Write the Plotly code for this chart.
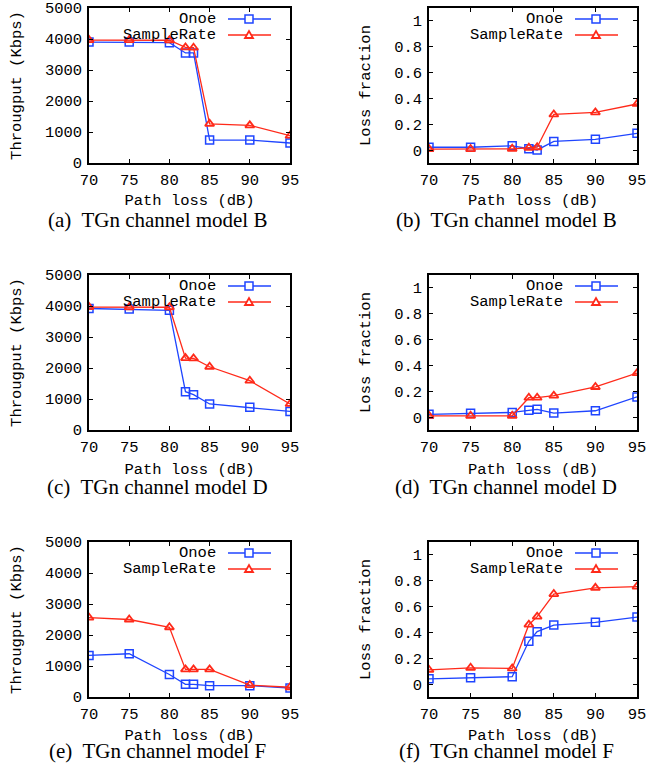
import plotly.graph_objects as go

# Path loss (dB) values shared by all panels
path_loss = [70, 75, 80, 82, 83, 85, 90, 95]

# (a) throughput, model B
thr_b_onoe = [3900, 3900, 3880, 3550, 3550, 740, 740, 645]
thr_b_sample = [3965, 3965, 3960, 3730, 3720, 1265, 1215, 880]
# (b) loss fraction, model B
loss_b_onoe = [0.022, 0.022, 0.033, 0.010, 0.001, 0.067, 0.083, 0.130]
loss_b_sample = [0.008, 0.008, 0.010, 0.018, 0.022, 0.276, 0.292, 0.357]
# (c) throughput, model D
thr_d_onoe = [3920, 3900, 3860, 1235, 1140, 840, 730, 600]
thr_d_sample = [3965, 3960, 3960, 2320, 2310, 2040, 1590, 840]
# (d) loss fraction, model D
loss_d_onoe = [0.021, 0.029, 0.036, 0.052, 0.060, 0.031, 0.049, 0.156]
loss_d_sample = [0.010, 0.010, 0.010, 0.150, 0.150, 0.166, 0.233, 0.340]
# (e) throughput, model F
thr_f_onoe = [1340, 1395, 725, 410, 410, 365, 365, 290]
thr_f_sample = [2560, 2500, 2250, 890, 890, 890, 385, 315]
# (f) loss fraction, model F
loss_f_onoe = [0.041, 0.049, 0.057, 0.331, 0.406, 0.457, 0.478, 0.519]
loss_f_sample = [0.110, 0.126, 0.121, 0.460, 0.522, 0.697, 0.745, 0.755]

captions = [
    "(a)  TGn channel model B", "(b)  TGn channel model B",
    "(c)  TGn channel model D", "(d)  TGn channel model D",
    "(e)  TGn channel model F", "(f)  TGn channel model F",
]

BLUE = "#1f45ff"
RED = "#ff2a1a"
MONO = "Liberation Mono, DejaVu Sans Mono, monospace"
SERIF = "Liberation Serif, Times New Roman, serif"

W, H = 668, 764
# plot boxes in pixels: (left, right, top, bottom)
col_px = [(89, 290), (429, 637)]
row_px = [(8, 163), (275, 430), (542, 697)]
xtitle_y = [201, 470, 736]
caption_y = [220, 487, 751]
caption_x = [157, 506]

panels = [
    (thr_b_onoe, thr_b_sample, "thr"), (loss_b_onoe, loss_b_sample, "loss"),
    (thr_d_onoe, thr_d_sample, "thr"), (loss_d_onoe, loss_d_sample, "loss"),
    (thr_f_onoe, thr_f_sample, "thr"), (loss_f_onoe, loss_f_sample, "loss"),
]

fig = go.Figure()
layout = {}
annotations = []
shapes = []

for i, (onoe, sample, kind) in enumerate(panels):
    r, c = divmod(i, 2)
    n = "" if i == 0 else str(i + 1)
    xa, ya = "x" + n, "y" + n
    left, right = col_px[c]
    top, bottom = row_px[r]

    fig.add_trace(go.Scatter(
        x=path_loss, y=onoe, xaxis=xa, yaxis=ya, mode="lines+markers",
        line=dict(color=BLUE, width=1.3),
        marker=dict(symbol="square-open", size=8, color=BLUE, line=dict(width=1.5)),
        showlegend=False,
    ))
    fig.add_trace(go.Scatter(
        x=path_loss, y=sample, xaxis=xa, yaxis=ya, mode="lines+markers",
        line=dict(color=RED, width=1.3),
        marker=dict(symbol="triangle-up-open", size=8, color=RED, line=dict(width=1.8)),
        showlegend=False,
    ))

    axis_common = dict(
        showline=True, linecolor="black", linewidth=1.5, mirror="ticks",
        ticks="inside", ticklen=4, tickcolor="black", tickwidth=1,
        showgrid=False, zeroline=False, automargin=False,
        tickfont=dict(family=MONO, size=15.5, color="black"),
    )
    layout["xaxis" + n] = dict(
        axis_common, domain=[left / W, right / W], anchor=ya,
        range=[70, 95], tickvals=[70, 75, 80, 85, 90, 95], ticklabelstandoff=2,
        title=dict(text="Path loss (dB)", font=dict(family=MONO, size=15.5, color="black"),
                   standoff=max(xtitle_y[r] - bottom - 33, 0)),
    )
    if kind == "thr":
        yrange, yticks, ytitle = [0, 5000], [0, 1000, 2000, 3000, 4000, 5000], "Througput (Kbps)"
    else:
        yrange, yticks, ytitle = [-0.1, 1.1], [0, 0.2, 0.4, 0.6, 0.8, 1], "Loss fraction"
    layout["yaxis" + n] = dict(
        axis_common, domain=[1 - bottom / H, 1 - top / H], anchor=xa,
        range=yrange, tickvals=yticks, ticklabelstandoff=2,
        title=dict(text=ytitle, font=dict(family=MONO, size=15.5, color="black"), standoff=20),
    )

    annotations.append(dict(
        text=captions[i], xref="paper", yref="paper",
        x=caption_x[c] / W, y=1 - caption_y[r] / H, xanchor="center", yanchor="middle",
        showarrow=False, borderpad=0, font=dict(family=SERIF, size=21, color="black"),
    ))

    # gnuplot-style key: label on the left, sample line with marker on the right
    for k, (name, color, sym) in enumerate([("Onoe", BLUE, "sq"), ("SampleRate", RED, "tri")]):
        dy = -11 - 16 * k
        annotations.append(dict(
            text=name, xref=xa + " domain", yref=ya + " domain", x=1, y=1,
            xanchor="right", yanchor="middle", xshift=-72, yshift=dy,
            showarrow=False, font=dict(family=MONO, size=15.5, color="black"),
        ))
        base = dict(xref=xa + " domain", yref=ya + " domain", xsizemode="pixel",
                    ysizemode="pixel", xanchor=1, yanchor=1)
        shapes.append(dict(base, type="line", x0=-62, x1=-19, y0=dy, y1=dy,
                           line=dict(color=color, width=1.3)))
        if sym == "sq":
            shapes.append(dict(base, type="rect", x0=-45, x1=-37, y0=dy - 4, y1=dy + 4,
                               line=dict(color=color, width=1.5), fillcolor="white"))
        else:
            shapes.append(dict(base, type="path",
                               path=f"M -45,{dy - 3} L -37,{dy - 3} L -41,{dy + 4} Z",
                               line=dict(color=color, width=1.8), fillcolor="white"))

fig.update_layout(
    layout,
    width=W, height=H,
    margin=dict(l=0, r=0, t=0, b=0),
    plot_bgcolor="white", paper_bgcolor="white",
    annotations=annotations, shapes=shapes,
    showlegend=False,
)
# drop the browser's default body margin so the figure fills the window
fig.write_html("out.html", config={"displayModeBar": False},
               post_script="document.body.style.margin = '0';")
